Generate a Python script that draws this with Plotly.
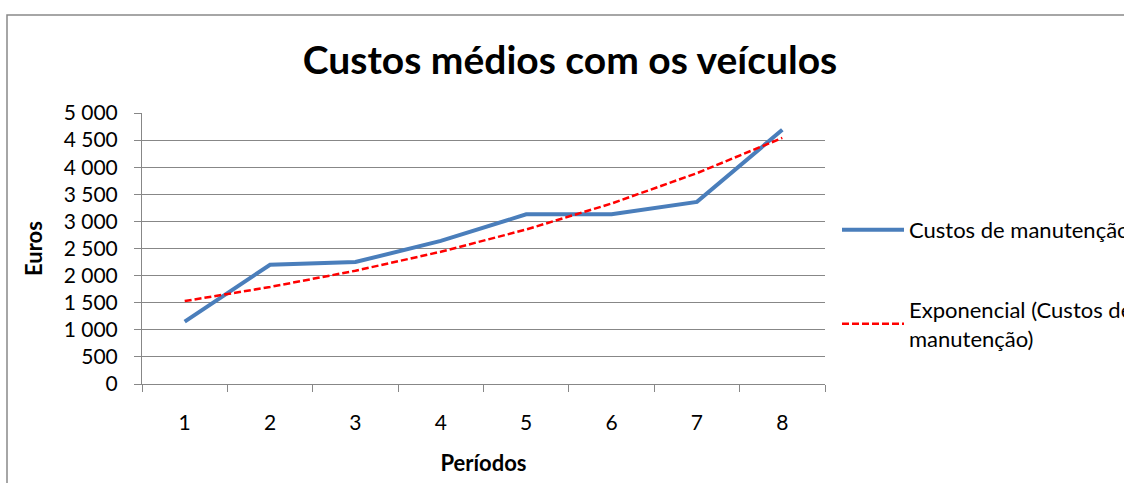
import plotly.graph_objects as go

periodos = ["1", "2", "3", "4", "5", "6", "7", "8"]
custos = [1150, 2200, 2250, 2640, 3130, 3130, 3360, 4690]
tendencia = [1530, 1790, 2090, 2440, 2850, 3330, 3890, 4540]
y_ticks = [0, 500, 1000, 1500, 2000, 2500, 3000, 3500, 4000, 4500, 5000]

FONT = "Lato"
GRID = "#878787"

fig = go.Figure()
fig.add_trace(go.Scatter(
    x=periodos, y=custos, mode="lines", name="Custos de manutenção",
    line=dict(color="#4A7EBB", width=4), legendgroup="a"))
fig.add_trace(go.Scatter(
    x=periodos, y=tendencia, mode="lines",
    name="Exponencial (Custos de<br>manutenção)",
    line=dict(color="#FF0000", width=2.5, dash="7px,3px"), legendgroup="b"))

W, H = 1124, 483
L, R, T, B = 142, 825, 113, 384
pw, ph = R - L, B - T

fig.update_layout(
    width=W, height=H,
    margin=dict(l=L, r=W - R, t=T, b=H - B),
    paper_bgcolor="white", plot_bgcolor="white",
    separators=", ",
    font=dict(family=FONT, size=21, color="#000000"),
    title=dict(text="<b>Custos médios com os veículos</b>",
               x=570 / W, xanchor="center", y=1 - 60 / H, yanchor="middle",
               font=dict(family=FONT, size=39, color="#000000")),
    legend=dict(xref="container", yref="container",
                x=837 / W, xanchor="left", y=1 - 209 / H, yanchor="top",
                font=dict(family=FONT, size=22), bgcolor="rgba(0,0,0,0)",
                tracegroupgap=48, itemwidth=62, traceorder="grouped"),
    xaxis=dict(type="category", tickson="boundaries", ticks="outside", ticklen=7,
               range=[-0.5, 7.5], automargin=False,
               tickcolor=GRID, showline=True, linecolor=GRID, linewidth=1,
               showgrid=False, ticklabelstandoff=20,
               title=dict(text="<b>Períodos</b>", font=dict(family=FONT, size=22), standoff=22),
               fixedrange=True),
    yaxis=dict(range=[0, 5000], tickvals=y_ticks, tickformat=",d", ticks="outside",
               ticklen=7, tickcolor=GRID, showline=True, linecolor=GRID, linewidth=1,
               showgrid=True, gridcolor=GRID, gridwidth=1, zeroline=False,
               ticklabelstandoff=12, automargin=False,
               title=dict(text="<b>Euros</b>", font=dict(family=FONT, size=22), standoff=14)),
    shapes=[dict(type="rect", xref="paper", yref="paper",
                 x0=(7 - L) / pw, x1=(W + 10 - L) / pw,
                 y0=(B - (H + 10)) / ph, y1=(B - 15) / ph,
                 line=dict(color="#898989", width=1.5), layer="below")],
)

fig.write_html("out.html", config={"displayModeBar": False},
               post_script="document.body.style.margin='0px';")
